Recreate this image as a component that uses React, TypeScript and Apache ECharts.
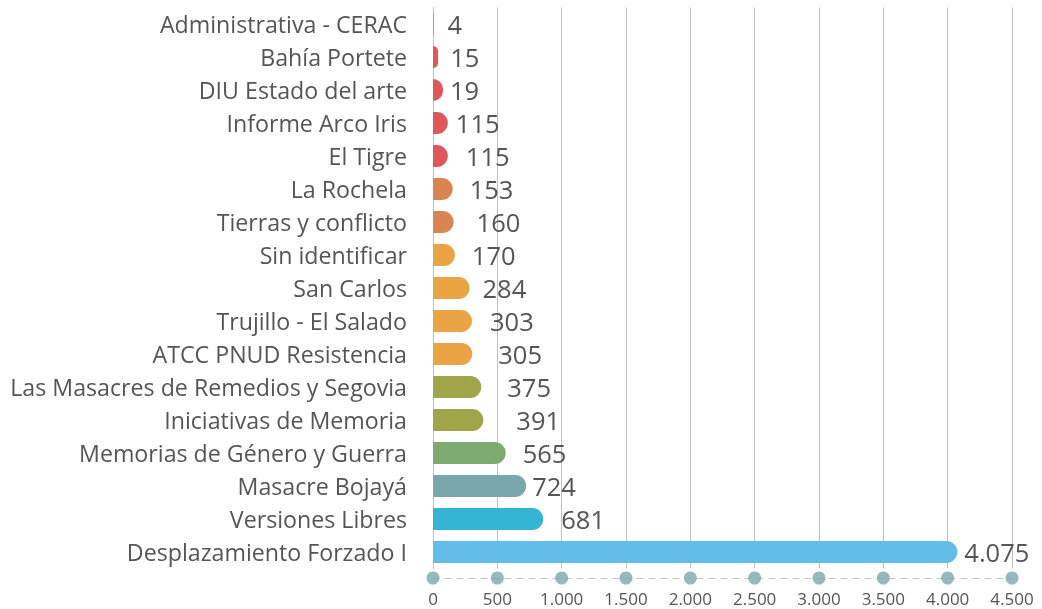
import React, { useEffect, useRef } from "react";
import * as echarts from "echarts";

const categories = [
  "Administrativa - CERAC",
  "Bahía Portete",
  "DIU Estado del arte",
  "Informe Arco Iris",
  "El Tigre",
  "La Rochela",
  "Tierras y conflicto",
  "Sin identificar",
  "San Carlos",
  "Trujillo - El Salado",
  "ATCC PNUD Resistencia",
  "Las Masacres de Remedios y Segovia",
  "Iniciativas de Memoria",
  "Memorias de Género y Guerra",
  "Masacre Bojayá",
  "Versiones Libres",
  "Desplazamiento Forzado I",
];

// numbers printed next to the bars
const labelValues = [4, 15, 19, 115, 115, 153, 160, 170, 284, 303, 305, 375, 391, 565, 724, 681, 4075];
// bar lengths as drawn in the picture
const barLengths = [4, 40, 78, 115, 115, 153, 160, 170, 284, 303, 305, 375, 391, 565, 724, 857, 4075];

const xTicks = [0, 500, 1000, 1500, 2000, 2500, 3000, 3500, 4000, 4500];

const barColors = [
  "#e0575a", "#e0575a", "#e0575a", "#e0575a", "#e0575a",
  "#d98452", "#d98452",
  "#eba445", "#eba445", "#eba445", "#eba445",
  "#a0a44a", "#a0a44a",
  "#7daa6f",
  "#7ba6ab",
  "#35b4d4",
  "#64bde9",
];
const labelGaps = [14, 12, 7, 8, 18, 17, 23, 17, 13, 18, 26, 26, 33, 17, 6, 18, 7];

const fmt = (v: number) => String(v).replace(/\B(?=(\d{3})+(?!\d))/g, ".");

const FONT = "'Open Sans', 'Noto Sans', sans-serif";

export default function App() {
  const ref = useRef<HTMLDivElement>(null);
  useEffect(() => {
    if (!ref.current) return;
    const chart = echarts.init(ref.current, undefined, { renderer: "svg" });
    chart.setOption({
      animation: false,
      textStyle: { fontFamily: FONT },
      grid: [
        { left: 433, right: 30, top: 7.5, height: 561 },
        { left: 433, right: 30, top: 568, height: 20 },
      ],
      xAxis: [
        {
          gridIndex: 0,
          type: "value",
          min: 0,
          max: 4500,
          interval: 500,
          axisLine: { show: false },
          axisTick: { show: false },
          axisLabel: { show: false },
          splitLine: { show: true, lineStyle: { color: "#bfbfbf", width: 1 } },
        },
        {
          gridIndex: 1,
          type: "value",
          min: 0,
          max: 4500,
          interval: 500,
          axisLine: { show: true, onZero: true, lineStyle: { color: "#c4c4c4", type: [6, 6], width: 1 } },
          axisTick: { show: false },
          splitLine: { show: false },
          axisLabel: {
            margin: 2,
            fontSize: 17,
            color: "#555555",
            fontFamily: FONT,
            formatter: (v: number) => fmt(v),
          },
        },
      ],
      yAxis: [
        {
          gridIndex: 0,
          type: "category",
          inverse: true,
          data: categories,
          axisLine: { show: true, lineStyle: { color: "#bfbfbf", width: 1 } },
          axisTick: { show: false },
          axisLabel: { margin: 26, fontSize: 23.2, color: "#555555", fontFamily: FONT },
        },
        { gridIndex: 1, type: "value", min: -1, max: 1, show: false },
      ],
      series: [
        {
          type: "bar",
          xAxisIndex: 0,
          yAxisIndex: 0,
          barWidth: 22,
          data: barLengths.map((v, i) => ({
            value: v,
            itemStyle: { color: barColors[i], borderRadius: [0, 11, 11, 0] },
            label: {
              show: true,
              position: "right",
              distance: labelGaps[i],
              offset: [0, 0],
              fontSize: 25.5,
              color: "#555555",
              fontFamily: FONT,
              formatter: () => fmt(labelValues[i]),
            },
          })),
        },
        {
          type: "scatter",
          xAxisIndex: 1,
          yAxisIndex: 1,
          symbolSize: 13,
          itemStyle: { color: "#7ba7ab" },
          data: xTicks.map((t) => [t, 0]),
          z: 5,
        },
      ],
    });
    return () => chart.dispose();
  }, []);
  return <div ref={ref} style={{ position: "fixed", left: 0, top: 0, width: 1042, height: 609 }} />;
}
